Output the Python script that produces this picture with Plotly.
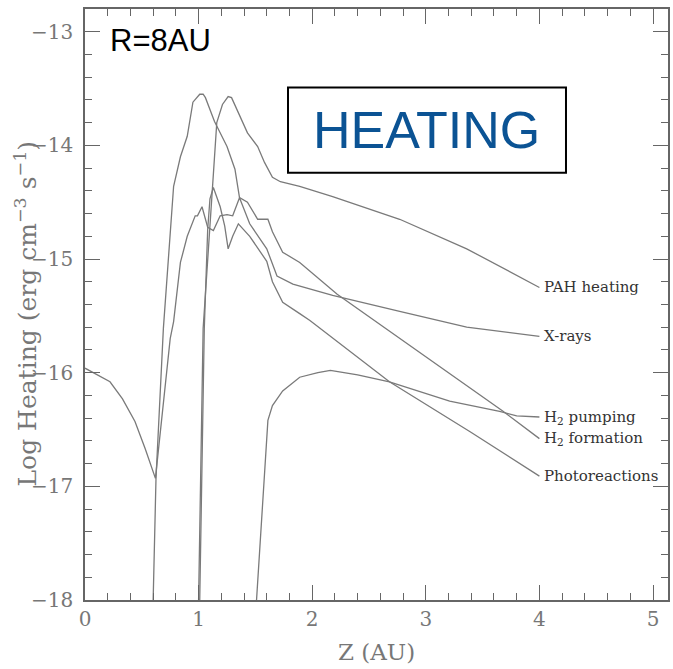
import plotly.graph_objects as go

# ---- data ----
xray_x = [0.0, 0.22, 0.33, 0.44, 0.53, 0.62, 0.75, 0.78, 0.84, 0.90, 0.97, 0.99, 1.03, 1.06, 1.08, 1.13,
          1.19, 1.25, 1.30, 1.36, 1.45, 1.60, 1.69, 1.83, 2.18, 2.77, 3.36, 4.0]
xray_y = [-15.96, -16.08, -16.23, -16.43, -16.67, -16.93, -15.70, -15.55, -15.03, -14.80, -14.62, -14.62,
          -14.54, -14.65, -14.72, -14.75, -14.62, -14.61, -14.62, -14.46, -14.69, -14.91, -15.15, -15.22,
          -15.32, -15.46, -15.60, -15.68]

h2form_x = [0.60, 0.625, 0.69, 0.78, 0.84, 0.90, 0.95, 0.99, 1.01, 1.04, 1.06, 1.14, 1.25, 1.32, 1.36,
            1.43, 1.52, 1.61, 1.65, 1.74, 1.89, 2.22, 2.77, 3.68, 4.0]
h2form_y = [-18.0, -16.93, -15.61, -14.36, -14.10, -13.92, -13.62, -13.57, -13.55, -13.55, -13.58, -13.79,
            -14.01, -14.21, -14.46, -14.50, -14.65, -14.65, -14.76, -14.94, -15.03, -15.31, -15.70, -16.34,
            -16.58]

photo_x = [1.01, 1.05, 1.08, 1.10, 1.13, 1.19, 1.23, 1.26, 1.30, 1.35, 1.45, 1.60, 1.65, 1.74, 1.89, 1.98,
           2.68, 3.39, 4.0]
photo_y = [-18.0, -15.61, -14.74, -14.47, -14.37, -14.54, -14.71, -14.91, -14.80, -14.69, -14.80, -15.02,
           -15.20, -15.38, -15.48, -15.54, -16.08, -16.52, -16.91]

pah_x = [1.00, 1.04, 1.06, 1.12, 1.14, 1.16, 1.21, 1.26, 1.29, 1.35, 1.43, 1.52, 1.58, 1.65, 1.72, 1.89,
         2.18, 2.77, 3.36, 4.0]
pah_y = [-18.0, -15.61, -15.31, -14.39, -14.04, -13.80, -13.64, -13.57, -13.58, -13.71, -13.89, -14.01,
         -14.15, -14.28, -14.32, -14.36, -14.45, -14.65, -14.91, -15.25]

pump_x = [1.51, 1.61, 1.65, 1.74, 1.89, 2.05, 2.16, 2.40, 2.68, 3.21, 3.65, 3.80, 4.0]
pump_y = [-18.0, -16.42, -16.29, -16.16, -16.04, -16.00, -15.98, -16.02, -16.08, -16.25, -16.34, -16.38,
          -16.39]

labels = ["PAH heating", "X-rays", "H<sub>2</sub> pumping", "H<sub>2</sub> formation", "Photoreactions"]
series = [(pah_x, pah_y), (xray_x, xray_y), (pump_x, pump_y), (h2form_x, h2form_y), (photo_x, photo_y)]

x_tick_step = 1
y_tick_step = 1
minor_step = 0.2

LINE = "#7a7a7a"
AX = "#666666"
SERIF = "DejaVu Serif"

fig = go.Figure()
for (xs, ys), name in zip(series, labels):
    fig.add_trace(go.Scatter(x=xs, y=ys, mode="lines", name=name,
                             line=dict(color=LINE, width=1.3), showlegend=False))

for (xs, ys), name in zip(series, labels):
    fig.add_annotation(x=xs[-1], y=ys[-1], text=name, showarrow=False, xanchor="left", yanchor="middle",
                       xshift=3, font=dict(family=SERIF, size=15, color="#333333"))

# y-axis title (placed as rotated text to match the reference position)
fig.add_annotation(xref="paper", yref="paper", x=-0.101, y=0.485, textangle=-90,
                   text="Log Heating (erg cm<sup>\u22123</sup> s<sup>\u22121</sup>)", showarrow=False,
                   xanchor="center", yanchor="middle",
                   font=dict(family=SERIF, size=25, color="#777777"))

# inset texts
fig.add_annotation(xref="paper", yref="paper", x=0.04, y=0.946, text="R=8AU", showarrow=False,
                   xanchor="left", yanchor="middle",
                   font=dict(family="Liberation Sans", size=31, color="#000000"))
fig.add_shape(type="rect", xref="x", yref="y", x0=1.787, x1=4.234, y0=-14.24, y1=-13.49,
              line=dict(color="#000000", width=2), fillcolor="white", layer="above")
fig.add_annotation(x=3.01, y=-13.865, text="HEATING", showarrow=False, xanchor="center", yanchor="middle",
                   font=dict(family="Liberation Sans", size=52, color="#0b5394"))

axis_common = dict(showline=True, linecolor=AX, linewidth=1.5, mirror="allticks", ticks="inside",
                   ticklen=15, tickwidth=1.3, tickcolor=AX, showgrid=False, zeroline=False,
                   automargin=False, tickmode="linear",
                   tickfont=dict(family=SERIF, size=20, color="#777777"))

fig.update_xaxes(range=[0, 5.132], tick0=0, dtick=x_tick_step,
                 minor=dict(tickmode="linear", dtick=minor_step, tick0=0, ticks="inside", ticklen=7,
                            tickwidth=1.1, tickcolor=AX, showgrid=False),
                 title=dict(text="Z (AU)", font=dict(family=SERIF, size=23, color="#777777"), standoff=14),
                 **axis_common)
fig.update_yaxes(range=[-18, -12.8], tick0=-18, dtick=y_tick_step,
                 minor=dict(tickmode="linear", dtick=minor_step, tick0=-18, ticks="inside", ticklen=7,
                            tickwidth=1.1, tickcolor=AX, showgrid=False),
                 ticklabelstandoff=6,
                 **axis_common)

fig.update_layout(width=673, height=669, margin=dict(l=85, r=5, t=9, b=69),
                  paper_bgcolor="white", plot_bgcolor="white")

fig.write_html("out.html", config={"responsive": False, "displayModeBar": False},
               post_script="document.body.style.margin='0';document.body.style.overflow='hidden';")
